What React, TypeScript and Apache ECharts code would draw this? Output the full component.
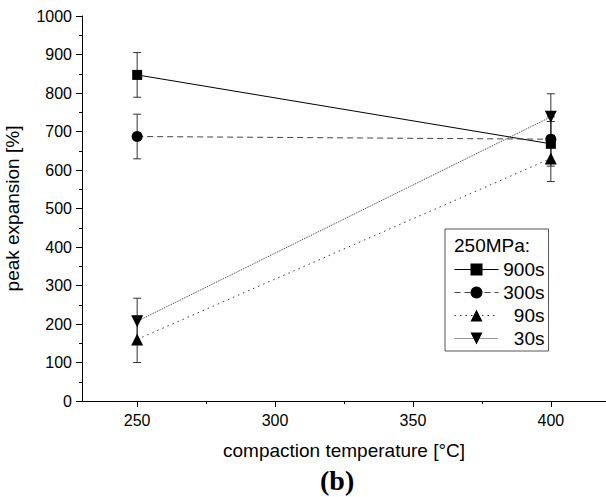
import React, { useEffect, useRef } from "react";
import * as echarts from "echarts";

const temperatures = [250, 400];
const xMajorTicks = [250, 300, 350, 400];
const xMinorTicks = [275, 325, 375];

const seriesNames = ["900s", "300s", "90s", "30s"];
const s900 = [847, 668];
const e900 = [58, 58];
const s300 = [687, 680];
const e300 = [58, 58];
const s90 = [160, 630];
const e90 = [60, 60];
const s30 = [207, 738];
const e30 = [60, 60];

const FONT = "Liberation Sans, Arial, sans-serif";

function errSeries(vals: number[], errs: number[], name: string) {
  const data = temperatures.map((t, i) => [t, vals[i] - errs[i], vals[i] + errs[i]]);
  return {
    type: "custom",
    name: name + "_err",
    data,
    z: 2,
    silent: true,
    renderItem: (params: any, api: any) => {
      const x = api.value(0);
      const lo = api.coord([x, api.value(1)]);
      const hi = api.coord([x, api.value(2)]);
      const w = 4;
      const st = { stroke: "#333", lineWidth: 1, fill: null };
      return {
        type: "group",
        children: [
          { type: "line", shape: { x1: lo[0], y1: lo[1], x2: hi[0], y2: hi[1] }, style: st },
          { type: "line", shape: { x1: lo[0] - w, y1: lo[1], x2: lo[0] + w, y2: lo[1] }, style: st },
          { type: "line", shape: { x1: hi[0] - w, y1: hi[1], x2: hi[0] + w, y2: hi[1] }, style: st },
        ],
      };
    },
  };
}

function lineSeries(name: string, vals: number[], symbol: string, size: number, lineType: any, rotate = 0, color = "#000") {
  return {
    type: "line",
    name,
    data: temperatures.map((t, i) => [t, vals[i]]),
    symbol,
    symbolSize: size,
    symbolRotate: rotate,
    showAllSymbol: true,
    z: 3,
    lineStyle: { color, width: 1, type: lineType },
    itemStyle: { color: "#000", borderWidth: 0 },
    emphasis: { disabled: true },
  };
}

export default function App() {
  const ref = useRef<HTMLDivElement>(null);
  useEffect(() => {
    document.body.style.margin = "0";
    const chart = echarts.init(ref.current!, null, { renderer: "svg" });
    chart.setOption({
      animation: false,
      backgroundColor: "#fff",
      grid: { left: 82, top: 16, right: 0, bottom: 96, outerBoundsMode: "none" },
      xAxis: [
        {
          type: "value",
          min: 230,
          max: 420,
          name: "compaction temperature [°C]",
          nameLocation: "middle",
          nameGap: 40,
          nameTextStyle: { fontFamily: FONT, fontSize: 19, color: "#000" },
          axisLine: { lineStyle: { color: "#000", width: 1 } },
          axisTick: { customValues: xMajorTicks, length: 6, lineStyle: { color: "#000" } },
          axisLabel: { customValues: xMajorTicks, fontFamily: FONT, fontSize: 16, color: "#000", margin: 11 },
          splitLine: { show: false },
        },
        {
          type: "value",
          min: 230,
          max: 420,
          position: "bottom",
          axisLine: { show: false },
          axisTick: { customValues: xMinorTicks, length: 3, lineStyle: { color: "#000" } },
          axisLabel: { show: false },
          splitLine: { show: false },
        },
      ],
      yAxis: {
        type: "value",
        min: 0,
        max: 1000,
        interval: 100,
        name: "peak expansion [%]",
        nameLocation: "middle",
        nameGap: 60,
        nameTextStyle: { fontFamily: FONT, fontSize: 19, color: "#000" },
        axisLine: { show: true, lineStyle: { color: "#000", width: 1 } },
        axisTick: { show: true, length: 6, lineStyle: { color: "#000" } },
        minorTick: { show: true, splitNumber: 2, length: 3, lineStyle: { color: "#000" } },
        axisLabel: { fontFamily: FONT, fontSize: 16, color: "#000", margin: 10, formatter: (v: number) => String(v) },
        splitLine: { show: false },
      },
      legend: {
        orient: "vertical",
        left: 445,
        top: 229,
        data: seriesNames,
        padding: [31, 4, 3, 9],
        itemWidth: 44,
        itemHeight: 15,
        itemGap: 4,
        borderColor: "#555",
        borderWidth: 1,
        backgroundColor: "#fff",
        selectedMode: false,
        lineStyle: { width: 1 },
        formatter: (n: string) => "{t|" + n + "}",
        textStyle: {
          fontFamily: FONT,
          fontSize: 19,
          color: "#000",
          rich: { t: { fontFamily: FONT, fontSize: 19, color: "#000", width: 41, align: "right" } },
        },
      },
      graphic: [
        {
          type: "text",
          left: 454,
          top: 236,
          z: 100,
          style: { text: "250MPa:", fontFamily: FONT, fontSize: 19, fill: "#000" },
        },
        {
          type: "text",
          left: 320,
          top: 466,
          style: { text: "(b)", fontFamily: "Liberation Serif, Times New Roman, serif", fontWeight: "bold", fontSize: 28, fill: "#000" },
        },
      ],
      series: [
        errSeries(s900, e900, "900s"),
        errSeries(s300, e300, "300s"),
        errSeries(s90, e90, "90s"),
        errSeries(s30, e30, "30s"),
        lineSeries("900s", s900, "rect", 10, "solid"),
        lineSeries("300s", s300, "circle", 11, [6, 4], 0, "#444"),
        lineSeries("90s", s90, "triangle", 12, [1.5, 4], 0, "#333"),
        lineSeries("30s", s30, "triangle", 12, [1, 1], 180, "#333"),
      ],
    });
    return () => chart.dispose();
  }, []);
  return <div ref={ref} style={{ width: 606, height: 497 }} />;
}
